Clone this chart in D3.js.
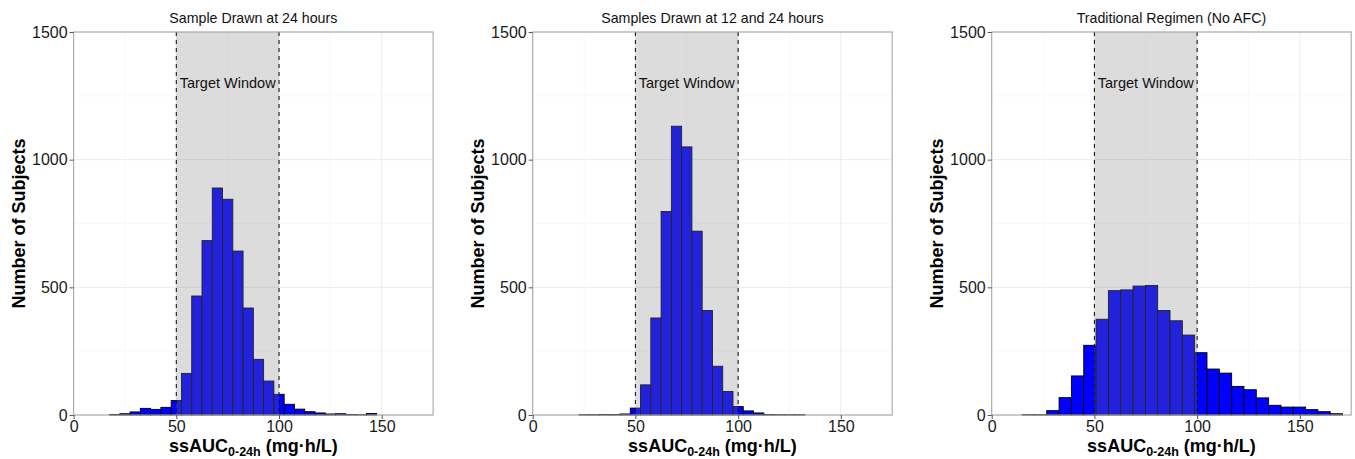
<!DOCTYPE html>
<html>
<head>
<meta charset="utf-8">
<script src="https://cdn.jsdelivr.net/npm/d3@7"></script>
<style>
  body { margin: 0; background: #fff; }
  text { font-family: "Liberation Sans", Arial, sans-serif; }
</style>
</head>
<body>
<script>
// histogram bins: lower edge of each bin + count
const titles = ["Sample Drawn at 24 hours", "Samples Drawn at 12 and 24 hours", "Traditional Regimen (No AFC)"];

const binWidth24 = 5;
const edges24 = [17.5, 22.5, 27.5, 32.5, 37.5, 42.5, 47.5, 52.5, 57.5, 62.5, 67.5, 72.5, 77.5,
  82.5, 87.5, 92.5, 97.5, 102.5, 107.5, 112.5, 117.5, 122.5, 127.5, 132.5, 137.5, 142.5];
const counts24 = [2, 5, 12, 26, 22, 30, 57, 163, 466, 683, 889, 845, 642,
  419, 218, 133, 81, 42, 23, 13, 8, 4, 5, 2, 1, 6];

const binWidth12 = 5;
const edges12 = [22.5, 27.5, 32.5, 37.5, 42.5, 47.5, 52.5, 57.5, 62.5, 67.5, 72.5,
  77.5, 82.5, 87.5, 92.5, 97.5, 102.5, 107.5, 112.5, 117.5, 122.5, 127.5];
const counts12 = [1, 1, 2, 2, 4, 27, 118, 380, 797, 1131, 1050,
  720, 409, 191, 92, 33, 16, 8, 2, 1, 1, 1];

const binWidthTrad = 6;
const edgesTrad = [14.8, 20.8, 26.8, 32.8, 38.8, 44.8, 50.8, 56.8, 62.8, 68.8, 74.8, 80.8, 86.8,
  92.8, 98.8, 104.8, 110.8, 116.8, 122.8, 128.8, 134.8, 140.8, 146.8, 152.8, 158.8, 164.8];
const countsTrad = [1, 1, 17, 68, 153, 273, 375, 487, 490, 505, 507, 409, 369,
  313, 244, 180, 164, 112, 99, 67, 38, 31, 31, 21, 13, 5];

const xTicks = [0, 50, 100, 150];
const xMinor = [25, 75, 125];
const yTicks = [0, 500, 1000, 1500];
const yMinor = [250, 750, 1250];
const targetWindow = [50, 100];
const targetLabel = "Target Window";

const panels = [
  { title: titles[0], edges: edges24, counts: counts24, width: binWidth24 },
  { title: titles[1], edges: edges12, counts: counts12, width: binWidth12 },
  { title: titles[2], edges: edgesTrad, counts: countsTrad, width: binWidthTrad }
];

const W = 1355, H = 459;
const panelLefts = [73.6, 532.7, 991.7];
const plotTop = 32, plotW = 359.5, plotH = 383;

const svg = d3.select("body").append("svg")
    .attr("width", W)
    .attr("height", H);

svg.append("rect").attr("width", W).attr("height", H).attr("fill", "#fff");

const x = d3.scaleLinear().domain([0, 175]).range([0, plotW]);
const y = d3.scaleLinear().domain([0, 1500]).range([plotH, 0]);

panels.forEach((p, i) => {
  const g = svg.append("g")
      .attr("transform", `translate(${panelLefts[i]}, ${plotTop})`);

  // grid
  g.selectAll(".minorx").data(xMinor).enter().append("line")
      .attr("x1", d => x(d)).attr("x2", d => x(d))
      .attr("y1", 0).attr("y2", plotH)
      .attr("stroke", "#f5f5f5").attr("stroke-width", 0.6);
  g.selectAll(".minory").data(yMinor).enter().append("line")
      .attr("y1", d => y(d)).attr("y2", d => y(d))
      .attr("x1", 0).attr("x2", plotW)
      .attr("stroke", "#f5f5f5").attr("stroke-width", 0.6);
  g.selectAll(".majorx").data(xTicks).enter().append("line")
      .attr("x1", d => x(d)).attr("x2", d => x(d))
      .attr("y1", 0).attr("y2", plotH)
      .attr("stroke", "#ebebeb").attr("stroke-width", 1);
  g.selectAll(".majory").data(yTicks).enter().append("line")
      .attr("y1", d => y(d)).attr("y2", d => y(d))
      .attr("x1", 0).attr("x2", plotW)
      .attr("stroke", "#ebebeb").attr("stroke-width", 1);

  // bars
  const bins = p.edges.map((e, k) => ({ x0: e, x1: e + p.width, n: p.counts[k] }));
  g.selectAll(".bar").data(bins).enter().append("rect")
      .attr("class", "bar")
      .attr("x", d => x(d.x0))
      .attr("y", d => y(d.n))
      .attr("width", d => x(d.x1) - x(d.x0))
      .attr("height", d => plotH - y(d.n))
      .attr("fill", "#0000ff")
      .attr("stroke", "#000")
      .attr("stroke-width", 0.9);

  // shaded target window, laid over the bars
  g.append("rect")
      .attr("x", x(targetWindow[0]))
      .attr("y", 0)
      .attr("width", x(targetWindow[1]) - x(targetWindow[0]))
      .attr("height", plotH)
      .attr("fill", "#7f7f7f")
      .attr("fill-opacity", 0.27);

  g.selectAll(".win").data(targetWindow).enter().append("line")
      .attr("x1", d => x(d)).attr("x2", d => x(d))
      .attr("y1", 0).attr("y2", plotH)
      .attr("stroke", "#1a1a1a")
      .attr("stroke-width", 1.1)
      .attr("stroke-dasharray", "4,4");

  g.append("text")
      .attr("x", x(d3.mean(targetWindow)))
      .attr("y", y(1300))
      .attr("dy", "0.35em")
      .attr("text-anchor", "middle")
      .attr("font-size", 14.5)
      .attr("fill", "#111")
      .text(targetLabel);

  // border
  g.append("rect")
      .attr("width", plotW).attr("height", plotH)
      .attr("fill", "none")
      .attr("stroke", "#a8a8a8")
      .attr("stroke-width", 1.1);

  // axes
  const yAxis = g.append("g")
      .call(d3.axisLeft(y).tickValues(yTicks).tickSize(4).tickPadding(2).tickFormat(d3.format("d")));
  yAxis.select(".domain").remove();
  yAxis.selectAll("line").attr("stroke", "#555");
  yAxis.selectAll("text").attr("font-size", 16).attr("fill", "#1a1a1a")
      .attr("font-family", "Liberation Sans, Arial, sans-serif");

  const xAxis = g.append("g")
      .attr("transform", `translate(0, ${plotH})`)
      .call(d3.axisBottom(x).tickValues(xTicks).tickSize(4).tickPadding(2));
  xAxis.select(".domain").remove();
  xAxis.selectAll("line").attr("stroke", "#555");
  xAxis.selectAll("text").attr("font-size", 16).attr("fill", "#1a1a1a")
      .attr("font-family", "Liberation Sans, Arial, sans-serif");

  // panel title
  g.append("text")
      .attr("x", plotW / 2)
      .attr("y", -9)
      .attr("text-anchor", "middle")
      .attr("font-size", 14.2)
      .attr("fill", "#111")
      .text(p.title);

  // axis titles
  g.append("text")
      .attr("transform", "rotate(-90)")
      .attr("x", -plotH / 2)
      .attr("y", -49)
      .attr("text-anchor", "middle")
      .attr("font-size", 18)
      .attr("font-weight", "bold")
      .attr("fill", "#000")
      .text("Number of Subjects");

  const xt = g.append("text")
      .attr("x", plotW / 2)
      .attr("y", plotH + 37)
      .attr("text-anchor", "middle")
      .attr("font-size", 18)
      .attr("font-weight", "bold")
      .attr("fill", "#000");
  xt.append("tspan").text("ssAUC");
  xt.append("tspan").attr("font-size", 12.5).attr("dy", 4).text("0-24h");
  xt.append("tspan").attr("dy", -4).text(" (mg\u00b7h/L)");
});
</script>
</body>
</html>
